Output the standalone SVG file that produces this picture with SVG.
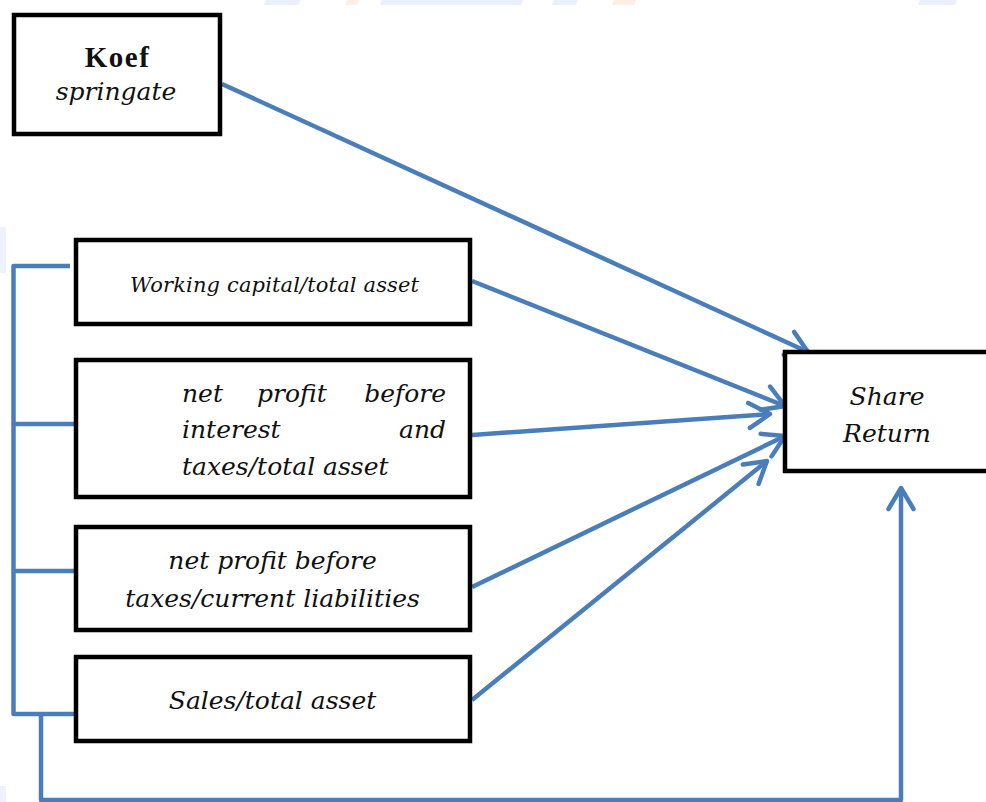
<svg xmlns="http://www.w3.org/2000/svg" width="986" height="802" viewBox="0 0 986 802">
  <style>
    .box { fill: #ffffff; stroke: #000000; stroke-width: 4.5; }
    .lbl { font-family: "DejaVu Serif", "Liberation Serif", serif; font-style: italic; font-size: 25px; fill: #111111; }
    .small { font-size: 21px; }
    .bold { font-family: "Liberation Serif", "DejaVu Serif", serif; font-weight: bold; font-size: 29px; fill: #111111; }
    .conn { fill: none; stroke: #4a7ebb; stroke-width: 4.5; stroke-linejoin: round; }
    .wm { stroke: none; }
  </style>
  <defs>
    <marker id="arrow" markerUnits="userSpaceOnUse" markerWidth="40" markerHeight="40" viewBox="-30 -20 40 40" refX="0" refY="0" orient="auto">
      <path d="M-21,-12.5 L0,0 L-21,12.5" fill="none" stroke="#4a7ebb" stroke-width="4.5" stroke-linecap="round" stroke-linejoin="round"/>
    </marker>
  </defs>
  <rect x="0" y="0" width="986" height="802" fill="#ffffff"/>
  <g id="watermark">
    <polygon class="wm" points="266,0 301,0 298,5 264,5" fill="#eaf1fd"/>
    <polygon class="wm" points="347,0 359,0 357,5 345,5" fill="#fdeee6"/>
    <polygon class="wm" points="382,0 523,0 521,5 380,5" fill="#eaf1fd"/>
    <polygon class="wm" points="554,0 578,0 576,5 552,5" fill="#eaf1fd"/>
    <polygon class="wm" points="614,0 636,0 634,5 612,5" fill="#fdeee6"/>
    <polygon class="wm" points="920,0 957,0 955,5 918,5" fill="#eaf1fd"/>
    <rect class="wm" x="0" y="227" width="6" height="46" fill="#edf2fc"/>
    <rect class="wm" x="0" y="786" width="6" height="16" fill="#edf2fc"/>
  </g>
  <g id="connectors">
    <path class="conn" d="M70,266 H13.5 V714 H77"/>
    <path class="conn" d="M13.5,424 H77"/>
    <path class="conn" d="M13.5,571 H77"/>
    <path class="conn" d="M41,714 V800 H901 V488" marker-end="url(#arrow)"/>
    <line class="conn" x1="222" y1="84" x2="808" y2="352" marker-end="url(#arrow)"/>
    <line class="conn" x1="472" y1="281" x2="785" y2="406" marker-end="url(#arrow)"/>
    <line class="conn" x1="472" y1="435" x2="770" y2="414" marker-end="url(#arrow)"/>
    <line class="conn" x1="472" y1="587" x2="785" y2="436" marker-end="url(#arrow)"/>
    <line class="conn" x1="472" y1="700" x2="767" y2="461" marker-end="url(#arrow)"/>
  </g>
  <g id="node-koef">
    <rect class="box" x="14" y="15" width="206" height="119"/>
    <text class="bold" x="117.5" y="67" text-anchor="middle" letter-spacing="1.5">Koef</text>
    <text class="lbl" x="116" y="100" text-anchor="middle">springate</text>
  </g>
  <g id="node-working-capital">
    <rect class="box" x="76" y="240" width="394" height="84"/>
    <text class="lbl small" x="274.5" y="292" text-anchor="middle" textLength="289" lengthAdjust="spacing">Working capital/total asset</text>
  </g>
  <g id="node-ebit">
    <rect class="box" x="76" y="360" width="394" height="137"/>
    <text class="lbl" x="182" y="402">net</text>
    <text class="lbl" x="257" y="402">profit</text>
    <text class="lbl" x="446" y="402" text-anchor="end">before</text>
    <text class="lbl" x="182" y="438">interest</text>
    <text class="lbl" x="446" y="438" text-anchor="end">and</text>
    <text class="lbl" x="182" y="475">taxes/total asset</text>
  </g>
  <g id="node-ebt">
    <rect class="box" x="76" y="527" width="394" height="103"/>
    <text class="lbl" x="272.5" y="569" text-anchor="middle">net profit before</text>
    <text class="lbl" x="272.5" y="607" text-anchor="middle">taxes/current liabilities</text>
  </g>
  <g id="node-sales">
    <rect class="box" x="76" y="657" width="394" height="84"/>
    <text class="lbl" x="272.5" y="709" text-anchor="middle">Sales/total asset</text>
  </g>
  <g id="node-share-return">
    <rect class="box" x="785" y="352" width="220" height="119"/>
    <text class="lbl" x="887" y="405" text-anchor="middle">Share</text>
    <text class="lbl" x="887" y="442" text-anchor="middle">Return</text>
  </g>
</svg>
